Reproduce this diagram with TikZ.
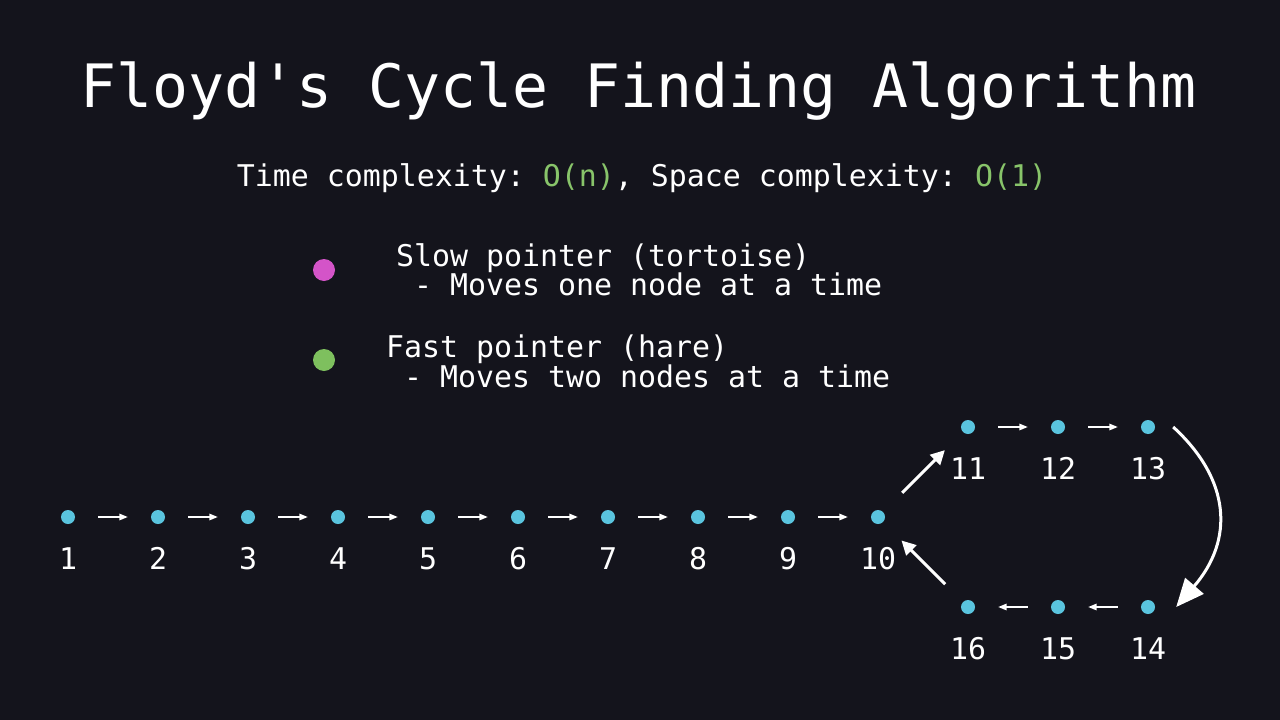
\documentclass[tikz,border=0pt]{standalone}
\usepackage{fontspec}
\setmonofont{DejaVu Sans Mono}
\usetikzlibrary{arrows.meta}

\definecolor{bg}{RGB}{20,20,28}
\definecolor{nodeblue}{RGB}{90,196,222}
\definecolor{slowpink}{RGB}{212,84,200}
\definecolor{fastgreen}{RGB}{126,192,94}
\definecolor{bigO}{RGB}{136,196,106}

\tikzset{
  dot/.style={circle,fill=nodeblue,inner sep=0pt,minimum size=14pt},
  bigdot/.style={circle,inner sep=0pt,minimum size=22pt},
  txt/.style={text=white,inner sep=0pt,font=\ttfamily\fontsize{29.9}{30}\selectfont},
  num/.style={txt,anchor=base},
  nextarr/.style={white,line width=1.5pt,-{Triangle[length=8.5pt,width=6.5pt]},
    shorten <=23pt,shorten >=23pt},
  jumparr/.style={white,line width=3pt,-{Triangle[length=14pt,width=14pt]}},
  looparr/.style={white,line width=3pt,-{Triangle[length=28pt,width=24pt]}}
}

\begin{document}
\begin{tikzpicture}[x=1pt,y=-1pt]
\fill[bg] (0,0) rectangle (1280,720);
\useasboundingbox (0,0) rectangle (1280,720);

% heading
\node[txt,anchor=base,font=\ttfamily\fontsize{59.8}{64}\selectfont] (title)
  at (639,107) {Floyd's Cycle Finding Algorithm};
\node[txt,anchor=base] (cplx) at (642,186)
  {Time complexity: \textcolor{bigO}{O(n)}, Space complexity: \textcolor{bigO}{O(1)}};

% legend
\node[bigdot,fill=slowpink] (slowdot) at (324,270) {};
\node[txt,anchor=base west] (slow) at (396,266) {Slow pointer (tortoise)};
\node[txt,anchor=base west] (slowtxt) at (396,295) {\ - Moves one node at a time};
\node[bigdot,fill=fastgreen] (fastdot) at (324,360) {};
\node[txt,anchor=base west] (fast) at (386,357) {Fast pointer (hare)};
\node[txt,anchor=base west] (fasttxt) at (386,387) {\ - Moves two nodes at a time};

% straight part of the list
\foreach \i in {1,...,10}{
  \node[dot] (n\i) at ({68+90*(\i-1)},517) {};
  \node[num] (l\i) at ({68+90*(\i-1)},569) {\i};
}
\foreach \i [count=\j from 2] in {1,...,9}
  \draw[nextarr] (n\i) -- (n\j);

% the cycle
\node[dot] (n11) at (968,427) {};
\node[num] (l11) at (968,479) {11};
\node[dot] (n12) at (1058,427) {};
\node[num] (l12) at (1058,479) {12};
\node[dot] (n13) at (1148,427) {};
\node[num] (l13) at (1148,479) {13};
\node[dot] (n14) at (1148,607) {};
\node[num] (l14) at (1148,659) {14};
\node[dot] (n15) at (1058,607) {};
\node[num] (l15) at (1058,659) {15};
\node[dot] (n16) at (968,607) {};
\node[num] (l16) at (968,659) {16};

\draw[nextarr] (n11) -- (n12);
\draw[nextarr] (n12) -- (n13);
\draw[nextarr] (n14) -- (n15);
\draw[nextarr] (n15) -- (n16);
\draw[jumparr,shorten <=27pt,shorten >=25.5pt] (n10) -- (n11);
\draw[jumparr,shorten <=25pt,shorten >=26pt] (n16) -- (n10);
\draw[looparr]
  ([xshift=18pt]n13.east) .. controls (1231,480) and (1234,540) .. ([xshift=21pt]n14.east);

\end{tikzpicture}
\end{document}
